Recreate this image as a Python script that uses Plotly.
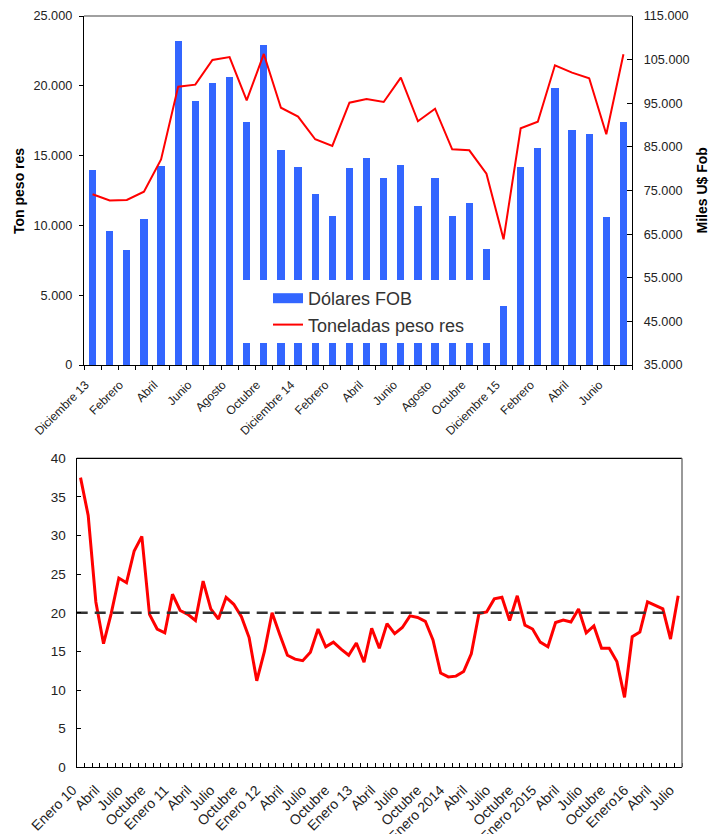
import plotly.graph_objects as go

# ---------------- data: top chart (Dec 2013 - Jul 2016) ----------------
top_months = ["Diciembre 13", "Enero", "Febrero", "Marzo", "Abril", "Mayo", "Junio", "Julio",
              "Agosto", "Septiembre", "Octubre", "Noviembre", "Diciembre 14", "Enero", "Febrero",
              "Marzo", "Abril", "Mayo", "Junio", "Julio", "Agosto", "Septiembre", "Octubre",
              "Noviembre", "Diciembre 15", "Enero", "Febrero", "Marzo", "Abril", "Mayo", "Junio", "Julio"]
top_tick_labels = ["Diciembre 13", "Febrero", "Abril", "Junio", "Agosto", "Octubre",
                   "Diciembre 14", "Febrero", "Abril", "Junio", "Agosto", "Octubre",
                   "Diciembre 15", "Febrero", "Abril", "Junio"]
# Miles U$ FOB (right axis)
dolares_fob = [79700, 65700, 61400, 68500, 80700, 109300, 95600, 99700, 101100, 90700,
               108400, 84300, 80500, 74200, 69200, 80200, 82500, 77900, 80900, 71500,
               77900, 69200, 72100, 61600, 48500, 80500, 84800, 98500, 88900, 88000,
               69000, 90700]
# Toneladas peso res (left axis)
toneladas_peso_res = [12230, 11780, 11820, 12410, 14730, 19940, 20080, 21850, 22060, 18960,
                      22280, 18430, 17790, 16170, 15690, 18790, 19050, 18840, 20580, 17460,
                      18360, 15450, 15380, 13700, 9000, 16960, 17430, 21470, 20940, 20540,
                      16530, 22260]

# ---------------- data: bottom chart (Jan 2010 - Jul 2016) ----------------
bottom_tick_labels = ["Enero 10", "Abril", "Julio", "Octubre", "Enero 11", "Abril", "Julio",
                      "Octubre", "Enero 12", "Abril", "Julio", "Octubre", "Enero 13", "Abril",
                      "Julio", "Octubre", "Enero 2014", "Abril", "Julio", "Octubre",
                      "Enero 2015", "Abril", "Julio", "Octubre", "Enero16", "Abril", "Julio"]
ratio = [37.5, 32.6, 21.4, 16.0, 19.9, 24.5, 23.9, 28.0, 29.9, 19.8,
         17.9, 17.4, 22.4, 20.3, 19.8, 19.0, 24.1, 20.5, 19.2, 22.0,
         21.1, 19.5, 16.8, 11.2, 15.0, 20.0, 17.2, 14.5, 14.0, 13.8,
         14.9, 17.9, 15.6, 16.2, 15.3, 14.5, 16.1, 13.6, 18.0, 15.4,
         18.6, 17.3, 18.1, 19.6, 19.4, 18.9, 16.5, 12.2, 11.7, 11.8,
         12.4, 14.7, 19.9, 20.1, 21.8, 22.0, 19.0, 22.2, 18.4, 17.9,
         16.2, 15.6, 18.75, 19.05, 18.8, 20.5, 17.4, 18.3, 15.4, 15.4,
         13.7, 9.05, 16.9, 17.5, 21.4, 20.9, 20.5, 16.6, 22.2]
reference_level = 20

BLUE = "#3366FF"
RED = "#FF0000"
FONT = "Arial, 'Liberation Sans', sans-serif"
W, H = 709, 834
NB = "\u00a0"


def fx(p):
    return p / W


def fy(p):
    return 1 - p / H


x_top = list(range(len(top_months)))
x_bot = list(range(len(ratio)))

fig = go.Figure()
# legend proxy for the bars (wide rectangle symbol)
fig.add_trace(go.Scatter(x=[None], y=[None], mode="lines", name="Dólares FOB",
                         line=dict(color=BLUE, width=12), xaxis="x", yaxis="y"))
fig.add_trace(go.Bar(x=x_top, y=dolares_fob, marker=dict(color=BLUE, line=dict(width=0)),
                     width=0.43, showlegend=False, xaxis="x", yaxis="y"))
fig.add_trace(go.Scatter(x=x_top, y=toneladas_peso_res, mode="lines",
                         name="Toneladas peso res" + NB * 5,
                         line=dict(color=RED, width=2), xaxis="x", yaxis="y2"))

fig.add_trace(go.Scatter(x=x_bot, y=ratio, mode="lines", showlegend=False,
                         line=dict(color=RED, width=3), xaxis="x2", yaxis="y3"))
fig.add_trace(go.Scatter(x=[x_bot[0] - 0.5, x_bot[-2]], y=[reference_level, reference_level],
                         mode="lines", showlegend=False,
                         line=dict(color="#333333", width=2.5, dash="11px,7px"),
                         xaxis="x2", yaxis="y3"))

common = dict(showgrid=False, zeroline=False, automargin=False, showline=True,
              linecolor="black", linewidth=1.3, tickcolor="black")

fig.update_layout(
    width=W, height=H, autosize=False,
    margin=dict(l=0, r=0, t=0, b=0),
    paper_bgcolor="white", plot_bgcolor="white",
    font=dict(family=FONT, color="#222222"),
    separators=",.",
    bargap=0,
    xaxis=dict(domain=[fx(84), fx(632)], anchor="y", range=[-0.5, len(x_top) - 0.5],
               tickmode="array", tickvals=x_top[::2], ticktext=top_tick_labels,
               tickangle=-45, ticks="", tickfont=dict(size=12),
               ticklabelstandoff=7, ticklabelshift=-7,
               minor=dict(tickmode="array", tickvals=[i - 0.5 for i in range(len(x_top) + 1)],
                          ticks="outside", ticklen=4, tickcolor="black", showgrid=False),
               **common),
    yaxis=dict(domain=[fy(365), fy(16)], anchor="x", side="right",
               range=[35000, 115000], dtick=10000, tick0=35000, tickformat=",d",
               ticks="inside", ticklen=5, tickfont=dict(size=12.7), ticklabelstandoff=8,
               **common),
    yaxis2=dict(overlaying="y", anchor="x", side="left", range=[0, 25000], dtick=5000,
                tickformat=",d", ticks="outside", ticklen=4, tickfont=dict(size=12.7),
                ticklabelstandoff=4, **common),
    xaxis2=dict(domain=[fx(76.7), fx(682)], anchor="y3", range=[-0.5, len(x_bot) - 0.5],
                tickmode="array", tickvals=x_bot[::3], ticktext=bottom_tick_labels,
                tickangle=-45, ticks="", tickfont=dict(size=14),
                ticklabelstandoff=8, ticklabelshift=-8,
                minor=dict(tickmode="array", tickvals=[i - 0.5 for i in range(len(x_bot) + 1)],
                           ticks="inside", ticklen=4, tickcolor="black", showgrid=False),
                **common),
    yaxis3=dict(domain=[fy(767.3), fy(458.3)], anchor="x2", range=[0, 40], dtick=5,
                ticks="inside", ticklen=4, tickfont=dict(size=13.5), ticklabelstandoff=7,
                **common),
    legend=dict(x=fx(243), y=fy(280), xanchor="left", yanchor="top",
                bgcolor="white", borderwidth=0, font=dict(size=18, color="#333333"),
                tracegroupgap=0,
                title=dict(text=NB * 3, side="left", font=dict(size=18))),
    shapes=[
        dict(type="line", xref="x domain", yref="y domain", x0=0, x1=1, y0=1, y1=1,
             line=dict(color="#808080", width=1.3)),
        dict(type="line", xref="x2 domain", yref="y3 domain", x0=0, x1=1, y0=1, y1=1,
             line=dict(color="black", width=1.3)),
        dict(type="line", xref="x2 domain", yref="y3 domain", x0=1, x1=1, y0=0, y1=1,
             line=dict(color="#777777", width=1.5)),
    ],
    annotations=[
        dict(text="<b>Ton peso res</b>", xref="paper", yref="paper", x=fx(19), y=fy(191),
             xanchor="center", yanchor="middle",
             textangle=-90, showarrow=False, font=dict(size=14, color="black")),
        dict(text="<b>Miles U$ Fob</b>", xref="paper", yref="paper", x=fx(701.5), y=fy(191),
             xanchor="center", yanchor="middle",
             textangle=-90, showarrow=False, font=dict(size=14, color="black")),
    ],
)

fig.write_html("out.html", config={"displayModeBar": False},
               post_script="document.body.style.margin='0';document.body.style.overflow='hidden';")
